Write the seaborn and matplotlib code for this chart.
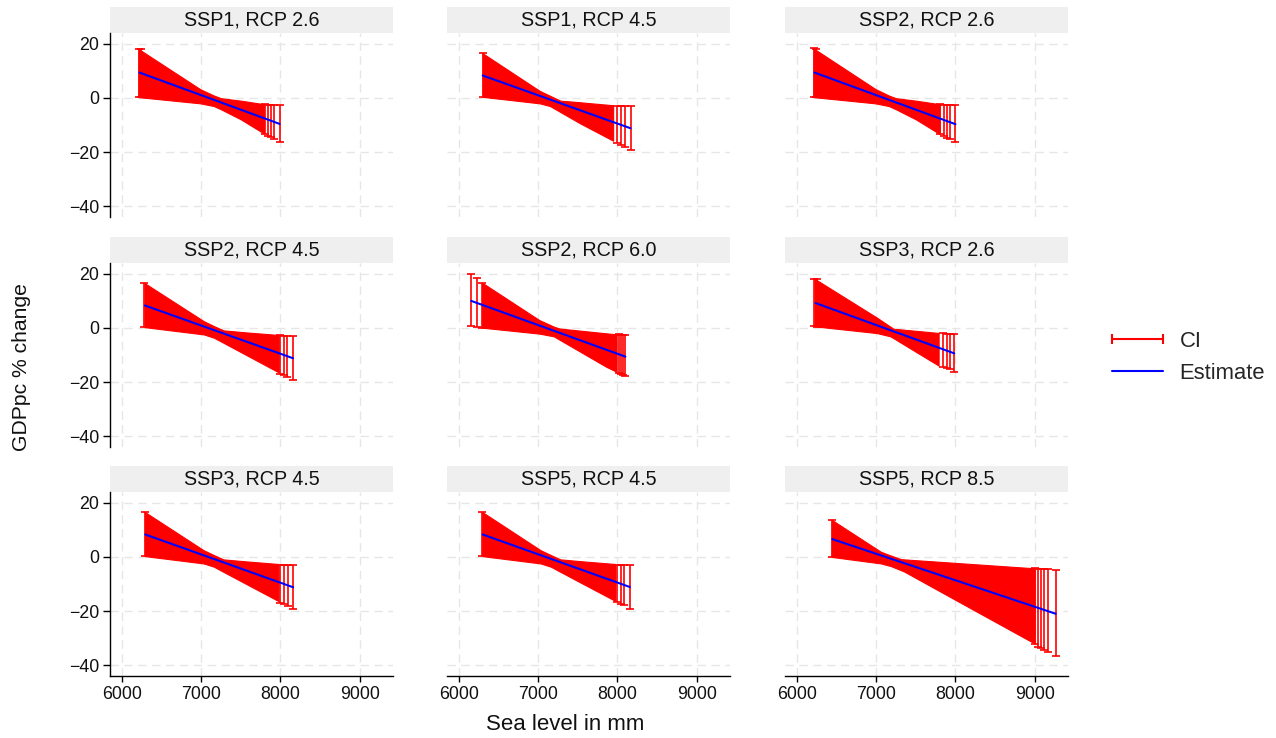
import matplotlib
matplotlib.use("Agg")
import matplotlib.pyplot as plt
from matplotlib.patches import Rectangle
from matplotlib.lines import Line2D
import numpy as np
import pandas as pd
import seaborn as sns

# ---------------- data ----------------
panels = ["SSP1, RCP 2.6", "SSP1, RCP 4.5", "SSP2, RCP 2.6",
          "SSP2, RCP 4.5", "SSP2, RCP 6.0", "SSP3, RCP 2.6",
          "SSP3, RCP 4.5", "SSP5, RCP 4.5", "SSP5, RCP 8.5"]

# envelope of the dense cloud of CI bars (sea level in mm, GDPpc % change)
band_x = [
    [6210, 6990, 7160, 7250, 7500, 7790],
    [6300, 7020, 7150, 7280, 7530, 7946],
    [6210, 6990, 7160, 7250, 7500, 7800],
    [6285, 7033, 7160, 7283, 7550, 7977],
    [6294, 7015, 7197, 7267, 7862, 7990],
    [6222, 7010, 7178, 7220, 7500, 7788],
    [6290, 7030, 7160, 7280, 7550, 7975],
    [6295, 7030, 7160, 7280, 7550, 7970],
    [6440, 7060, 7187, 7313, 7354, 8200, 9000],
]
band_hi = [
    [18.1, 3.2, 0.9, -0.1, -1.0, -2.3],
    [16.5, 2.6, 0.8, -1.0, -1.6, -2.7],
    [18.3, 3.3, 0.9, -0.1, -1.0, -2.3],
    [16.6, 2.5, 0.7, -0.9, -1.6, -2.6],
    [16.7, 2.9, 0.5, -0.2, -2.0, -2.35],
    [18.2, 3.8, 0.5, -0.3, -1.05, -1.85],
    [16.6, 2.5, 0.7, -0.9, -1.6, -2.6],
    [16.6, 2.5, 0.7, -0.9, -1.6, -2.6],
    [13.7, 1.9, 0.5, -0.8, -0.9, -2.6, -4.2],
]
band_lo = [
    [0.3, -2.0, -3.0, -4.2, -7.9, -13.1],
    [0.4, -2.0, -3.0, -5.2, -9.4, -15.8],
    [0.3, -2.0, -3.0, -4.2, -7.9, -13.3],
    [0.3, -2.4, -3.6, -5.5, -9.7, -16.4],
    [0.1, -2.1, -3.1, -4.3, -14.4, -16.2],
    [0.6, -1.9, -3.1, -3.8, -8.8, -13.9],
    [0.3, -2.4, -3.6, -5.5, -9.7, -16.3],
    [0.3, -2.4, -3.6, -5.5, -9.7, -16.2],
    [0.0, -2.4, -3.4, -4.9, -5.4, -19.1, -32.0],
]

# individually visible CI bars (at the ends of each range)
bar_x = [
    [6210, 6235, 7800, 7840, 7880, 7915, 7990],
    [6300, 8000, 8050, 8100, 8165],
    [6210, 6240, 7810, 7850, 7890, 7930, 8000],
    [6285, 8000, 8040, 8083, 8159],
    [6155, 6223, 6294, 8020, 8050, 8075, 8100],
    [6222, 6253, 7843, 7894, 7936, 7986],
    [6290, 8000, 8045, 8090, 8160],
    [6295, 7995, 8040, 8085, 8155],
    [6440, 9000, 9042, 9083, 9117, 9168, 9265],
]
bar_lo = [
    [0.3, 0.4, -13.3, -13.9, -14.5, -15.0, -16.3],
    [0.4, -16.8, -17.4, -18.0, -19.3],
    [0.3, 0.4, -13.5, -14.1, -14.7, -15.2, -16.4],
    [0.3, -17.0, -17.3, -18.0, -19.2],
    [0.7, 0.4, 0.1, -16.7, -17.1, -17.5, -17.9],
    [0.6, 0.5, -14.3, -14.7, -15.1, -16.1],
    [0.3, -16.9, -17.4, -18.0, -19.2],
    [0.3, -16.8, -17.3, -17.9, -19.1],
    [0.0, -32.0, -33.4, -33.8, -34.4, -35.0, -36.6],
]
bar_hi = [
    [18.1, 18.0, -2.4, -2.5, -2.5, -2.6, -2.7],
    [16.5, -2.9, -3.0, -3.0, -3.0],
    [18.3, 18.2, -2.4, -2.5, -2.5, -2.6, -2.7],
    [16.6, -2.7, -2.8, -2.9, -3.1],
    [19.8, 18.5, 16.7, -2.4, -2.5, -2.6, -2.7],
    [18.2, 18.0, -2.0, -2.1, -2.2, -2.4],
    [16.6, -2.8, -2.9, -3.0, -3.1],
    [16.6, -2.8, -2.9, -3.0, -3.1],
    [13.7, -4.2, -4.4, -4.4, -4.5, -4.5, -4.7],
]

# point estimate (linear)
est_x = [[6220, 7990], [6300, 8165], [6220, 8000], [6290, 8159], [6155, 8100],
         [6235, 7986], [6295, 8160], [6300, 8155], [6445, 9265]]
est_y = [[9.4, -9.6], [8.3, -11.2], [9.4, -9.7], [8.3, -11.2], [10.0, -10.6],
         [9.2, -9.4], [8.3, -11.2], [8.3, -11.1], [6.6, -21.0]]

x_ticks = [6000, 7000, 8000, 9000]
y_ticks = [-40, -20, 0, 20]
y_tick_labels = ["\u221240", "\u221220", "0", "20"]

# ---------------- style ----------------
sns.set_theme(style="white")
plt.rcParams["font.family"] = ["Liberation Sans", "DejaVu Sans"]
RED = "#ff0000"
BLUE = "#0000ff"
TXT = "#111111"

W, H = 1276, 738
fig = plt.figure(figsize=(W / 100, H / 100), dpi=100)
fig.patch.set_facecolor("white")

col_left = [110, 447, 785]
row_top = [33, 263, 492]
ax_w, ax_h, strip_h = 283, 184, 26

est_df = pd.DataFrame({
    "panel": [p for p, xs in zip(panels, est_x) for _ in xs],
    "sea": [v for xs in est_x for v in xs],
    "est": [v for ys in est_y for v in ys],
})

for i, name in enumerate(panels):
    r, c = divmod(i, 3)
    ax = fig.add_axes([col_left[c] / W, 1 - (row_top[r] + ax_h) / H, ax_w / W, ax_h / H])
    ax.set_xlim(5850, 9420)
    ax.set_ylim(-44, 24)
    ax.set_xticks(x_ticks)
    ax.set_yticks(y_ticks)
    ax.grid(True, color="#e6e6e6", linestyle=(0, (6, 4)), linewidth=1.0)
    ax.set_axisbelow(True)
    for s in ax.spines.values():
        s.set_visible(False)

    # CI: dense cloud of bars + individual bars
    ax.fill_between(band_x[i], band_lo[i], band_hi[i], color=RED, linewidth=0.8,
                    edgecolor=RED, zorder=2)
    bx = np.array(bar_x[i], float)
    blo = np.array(bar_lo[i], float)
    bhi = np.array(bar_hi[i], float)
    mid = (blo + bhi) / 2
    ax.errorbar(bx, mid, yerr=[mid - blo, bhi - mid], fmt="none", ecolor=RED,
                elinewidth=1.2, capsize=2.6, capthick=1.2, zorder=3)

    sub = est_df[est_df["panel"] == name]
    sns.lineplot(data=sub, x="sea", y="est", ax=ax, color=BLUE, linewidth=1.5,
                 legend=False, zorder=4)
    ax.set_xlabel("")
    ax.set_ylabel("")

    # y axis on left column
    if c == 0:
        ax.spines["left"].set_visible(True)
        ax.spines["left"].set_color("black")
        ax.spines["left"].set_linewidth(1.0)
        ax.set_yticklabels(y_tick_labels)
        ax.tick_params(axis="y", left=True, length=4.8, width=1.0, color="black",
                       pad=3, labelsize=12.8, labelcolor=TXT, direction="out")
    else:
        ax.tick_params(axis="y", left=False, labelleft=False)
    # x axis on bottom row
    if r == 2:
        ax.spines["bottom"].set_visible(True)
        ax.spines["bottom"].set_color("black")
        ax.spines["bottom"].set_linewidth(1.0)
        ax.set_xticklabels([str(t) for t in x_ticks])
        ax.tick_params(axis="x", bottom=True, length=4.5, width=1.0, color="black",
                       pad=3, labelsize=12.8, labelcolor=TXT, direction="out")
    else:
        ax.tick_params(axis="x", bottom=False, labelbottom=False)

    # facet strip
    ax.add_patch(Rectangle((0, 1), 1, strip_h / ax_h, transform=ax.transAxes,
                           facecolor="#efefef", edgecolor="none", clip_on=False))
    ax.text(0.5, 1 + strip_h / ax_h / 2, name, transform=ax.transAxes,
            ha="center", va="center", fontsize=14.2, color=TXT)

fig.text(565 / W, 1 - 725 / H, "Sea level in mm", ha="center", va="center",
         fontsize=16, color=TXT)
fig.text(22 / W, 1 - 367 / H, "GDPpc % change", ha="center", va="center",
         rotation=90, fontsize=15.2, color=TXT)

handles = [Line2D([], [], color=RED, lw=1.5, marker="|", markersize=7, markeredgewidth=1.5),
           Line2D([], [], color=BLUE, lw=1.5)]
fig.legend(handles, ["CI", "Estimate"], loc="center left",
           bbox_to_anchor=(1105 / W, 1 - 357.5 / H), frameon=False, fontsize=15.8,
           handlelength=2.93, handletextpad=0.47, numpoints=2, labelspacing=0.5,
           borderaxespad=0, borderpad=0)

fig.savefig("out.png", dpi=100, facecolor="white")
